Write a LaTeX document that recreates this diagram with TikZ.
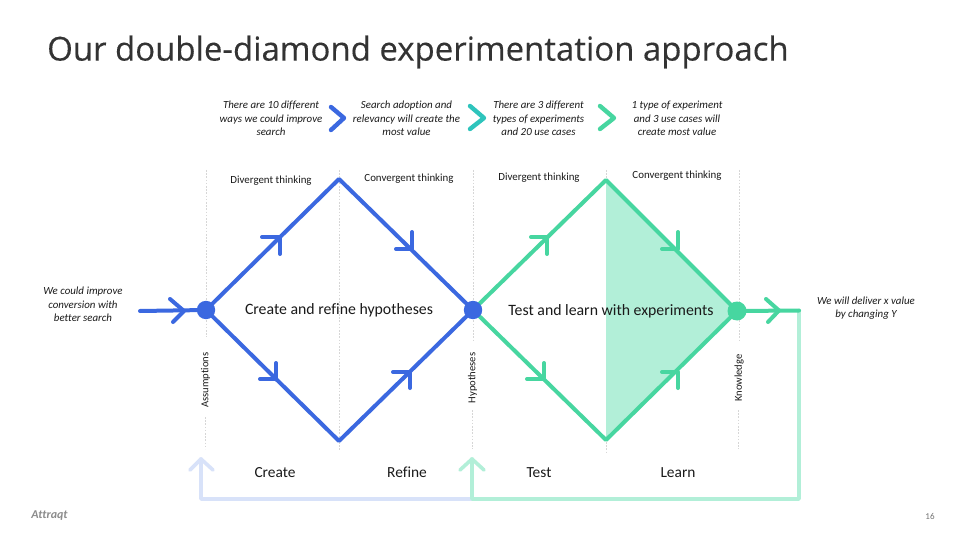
\documentclass[tikz,border=0pt]{standalone}
\usepackage{fontspec}
\setmainfont[Ligatures=NoCommon]{Carlito}
\newfontfamily\titlefont[FakeBold=0.25]{Open Sans}
\definecolor{bluec}{HTML}{3B68E0}
\definecolor{greenc}{HTML}{47D6A0}
\definecolor{tealc}{HTML}{2EC4BC}
\definecolor{lgreen}{HTML}{B2EFD8}
\definecolor{lblue}{HTML}{D8E2F9}
\definecolor{dashc}{HTML}{D6D6D6}
\definecolor{textc}{HTML}{1A1A1A}
\tikzset{
  bl/.style={draw=bluec,line width=4pt,line cap=round,line join=round},
  gl/.style={draw=greenc,line width=4pt,line cap=round,line join=round},
  lgl/.style={draw=lgreen,line width=3.6pt,line cap=round,line join=round},
  lbl/.style={draw=lblue,line width=3.6pt,line cap=round,line join=round},
  vdash/.style={draw=dashc,line width=0.8pt,dash pattern=on 1.6pt off 1.6pt},
  dot/.style={circle,inner sep=0pt,minimum size=18pt},
  note/.style={font=\fontsize{10.9}{13.3}\selectfont\itshape,align=center,text=textc,inner sep=0pt},
  small/.style={font=\fontsize{10.9}{13}\selectfont,text=textc,inner sep=0pt},
  side/.style={font=\fontsize{10.6}{12}\selectfont,text=textc,inner sep=0pt,rotate=90},
  big/.style={font=\fontsize{15.8}{18}\selectfont,text=textc,inner sep=0pt,anchor=base},
  phase/.style={font=\fontsize{15.4}{18}\selectfont,text=textc,inner sep=0pt,anchor=base},
}
\begin{document}
\begin{tikzpicture}[x=1pt,y=-1pt]
\useasboundingbox (0,0) rectangle (960,540);
\fill[white] (0,0) rectangle (960,540);

% key points
\node[dot] (d1) at (206,310) {};
\node[dot] (d2) at (473,310) {};
\node[dot] (d3) at (737,311) {};
\coordinate (t1) at (339,179);
\coordinate (b1) at (339,441);
\coordinate (t2) at (606,180);
\coordinate (b2) at (606,440);
\coordinate (in) at (140,311);
\coordinate (out) at (799,310.5);
\coordinate (rc) at (799,499);
\coordinate (mid) at (472,499);
\coordinate (lc) at (201,499);
\coordinate (up2) at (472,459);
\coordinate (up1) at (201,459);

% dashed guides
\draw[vdash] (206,170) -- (206,337) (205.5,417) -- (205.5,449);
\draw[vdash] (339,170) -- (339,450);
\draw[vdash] (473,170) -- (473,340) (472.5,410) -- (472.5,449);
\draw[vdash] (606,170) -- (606,453);
\draw[vdash] (739,170) -- (739,341) (738,410) -- (738,449);

% shaded part
\fill[lgreen] (t2.center) -- (d3.center) -- (b2.center) -- cycle;

% return loop
\draw[lbl] (mid) -- (lc) -- (up1);
\draw[lbl] (190,470) -- (up1) -- (213,470);
\draw[lgl] (out) -- (rc) -- (mid) -- (up2);
\draw[lgl] (460,470) -- (up2) -- (484,470);

% blue diamond
\draw[bl] (d1.center) -- (t1) -- (d2.center) -- (b1) -- cycle;
\draw[bl] (in) -- (d1.center);
\draw[bl] (170,299) -- (184,311) -- (173,322);
\draw[bl] (262,237) -- (280,237) -- (280,254);
\draw[bl] (412,232) -- (412,249) -- (396,249);
\draw[bl] (260,379) -- (276,379) -- (276,363);
\draw[bl] (393,372) -- (410,372) -- (410,388);

% green diamond
\draw[gl] (d2.center) -- (t2) -- (d3.center) -- (b2) -- cycle;
\draw[gl] (d3.center) -- (out);
\draw[gl] (766,299) -- (779,310.5) -- (768,322);
\draw[gl] (531,237) -- (547,237) -- (547,254);
\draw[gl] (678,232) -- (678,249) -- (662,249);
\draw[gl] (527,379) -- (544,379) -- (544,363);
\draw[gl] (662,372) -- (678,372) -- (678,388);

% dots on top
\fill[bluec] (d1) circle (9.2);
\fill[bluec] (d2) circle (9.2);
\fill[greenc] (d3) circle (9.5);

% chevrons
\coordinate (c1a) at (331,107); \coordinate (c1b) at (344,118); \coordinate (c1c) at (331,130);
\coordinate (c2a) at (470,106); \coordinate (c2b) at (484,118); \coordinate (c2c) at (470,129);
\coordinate (c3a) at (600,106); \coordinate (c3b) at (614,118); \coordinate (c3c) at (600,129);
\draw[bl,line width=4.4pt] (c1a) -- (c1b) -- (c1c);
\draw[bl,draw=tealc,line width=4.4pt] (c2a) -- (c2b) -- (c2c);
\draw[gl,line width=4.4pt] (c3a) -- (c3b) -- (c3c);

% title
\node[anchor=west,inner sep=0pt,text=black!80,font=\fontsize{32.95}{38}\selectfont\titlefont] (title) at (47,52) {Our double-diamond experimentation approach};

% top notes
\node[note] (n1) at (271,118.5) {There are 10 different\\ways we could improve\\search};
\node[note] (n2) at (406.5,118.5) {Search adoption and\\relevancy will create the\\most value};
\node[note] (n3) at (538.5,118.5) {There are 3 different\\types of experiments\\and 20 use cases};
\node[note] (n4) at (677,118.5) {1 type of experiment\\and 3 use cases will\\create most value};
\node[note] (n5) at (83,304.5) {We could improve\\conversion with\\better search};
\node[note] (n6) at (866,308) {We will deliver x value\\by changing Y};

% thinking labels
\node[small] (l1) at (271,181) {Divergent thinking};
\node[small] (l2) at (409,179) {Convergent thinking};
\node[small] (l3) at (539,178) {Divergent thinking};
\node[small] (l4) at (677,176) {Convergent thinking};

% side labels
\node[side] (s1) at (205.5,380) {Assumptions};
\node[side] (s2) at (472.5,378) {Hypotheses};
\node[side] (s3) at (739,378) {Knowledge};

% central
\node[big] (m1) at (339,314.5) {Create and refine hypotheses};
\node[big] (m2) at (611,315) {Test and learn with experiments};

\node[phase] (p1) at (275,477) {Create};
\node[phase] (p2) at (407,477) {Refine};
\node[phase] (p3) at (539,477) {Test};
\node[phase] (p4) at (678,477) {Learn};

% footer
\node[inner sep=0pt,text=black!45,font=\fontsize{12}{14}\selectfont\bfseries\itshape] (logo) at (49.5,516) {Attraqt};
\node[inner sep=0pt,text=black!55,font=\fontsize{9}{11}\selectfont] (pg) at (930,516) {16};
\end{tikzpicture}
\end{document}
